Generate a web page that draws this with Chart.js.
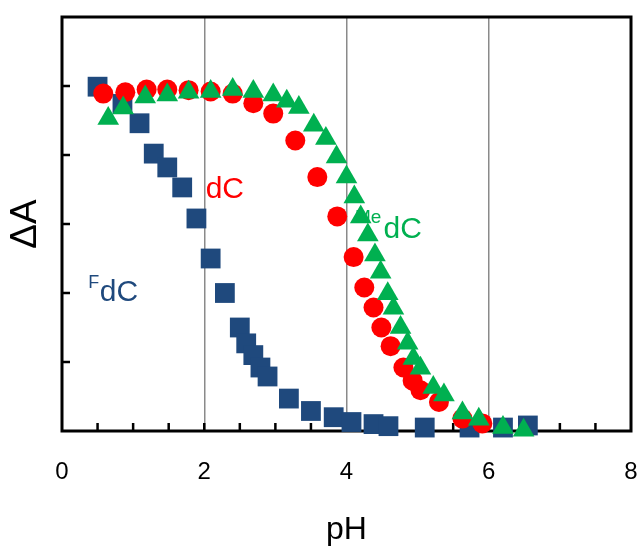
<!DOCTYPE html>
<html>
<head>
<meta charset="utf-8">
<script src="https://cdn.jsdelivr.net/npm/chart.js@4.4.1/dist/chart.umd.min.js"></script>
<style>
  html, body { margin: 0; padding: 0; background: #fff; }
  #wrap { width: 638px; height: 549px; }
</style>
</head>
<body>
<div id="wrap"><canvas id="c" width="638" height="549"></canvas></div>
<script>
// ---- Data ----
const xTickLabels = [0, 2, 4, 6, 8];

// FdC (squares)
const fdcPH = [0.50, 0.85, 1.09, 1.29, 1.48, 1.69, 1.89, 2.09, 2.29, 2.50, 2.59, 2.69, 2.79, 2.89, 3.19, 3.50, 3.82, 4.07, 4.38, 4.59, 5.10, 5.73, 6.20, 6.55];
const fdcA  = [4.99, 4.74, 4.46, 4.02, 3.82, 3.53, 3.08, 2.50, 2.00, 1.50, 1.27, 1.10, 0.92, 0.79, 0.47, 0.29, 0.20, 0.13, 0.10, 0.07, 0.05, 0.05, 0.05, 0.08];

// dC (circles)
const dcPH = [0.58, 0.89, 1.19, 1.48, 1.78, 2.09, 2.40, 2.69, 2.97, 3.28, 3.59, 3.87, 4.10, 4.25, 4.38, 4.49, 4.62, 4.80, 4.93, 5.04, 5.30, 5.63, 5.91];
const dcA  = [4.89, 4.91, 4.95, 4.95, 4.94, 4.92, 4.89, 4.75, 4.60, 4.21, 3.68, 3.11, 2.52, 2.08, 1.79, 1.50, 1.23, 0.92, 0.73, 0.59, 0.42, 0.18, 0.11];

// MedC (triangles)
const medcPH = [0.65, 0.86, 1.17, 1.48, 1.78, 2.09, 2.40, 2.69, 2.97, 3.16, 3.33, 3.54, 3.71, 3.86, 4.00, 4.11, 4.20, 4.30, 4.40, 4.48, 4.58, 4.66, 4.76, 4.86, 4.94, 5.04, 5.22, 5.37, 5.63, 5.86, 6.20, 6.49];
const medcA  = [4.53, 4.68, 4.84, 4.87, 4.91, 4.92, 4.95, 4.92, 4.87, 4.78, 4.69, 4.43, 4.24, 3.97, 3.68, 3.39, 3.10, 2.84, 2.55, 2.30, 1.99, 1.78, 1.50, 1.27, 1.05, 0.91, 0.63, 0.52, 0.26, 0.17, 0.05, 0.01];

const toPoints = (xs, ys) => xs.map((x, i) => ({ x: x, y: ys[i] }));

const FONT = "'Liberation Sans', Arial, sans-serif";
const BLUE = '#1F497D', RED = '#FF0000', GREEN = '#00B050';

const framePlugin = {
  id: 'frame',
  beforeDatasetsDraw(chart) {
    const { ctx, chartArea: a, scales } = chart;
    ctx.save();
    ctx.strokeStyle = '#000';
    ctx.lineWidth = 2.5;
    ctx.beginPath();
    for (let v = 0.5; v < 8; v += 0.5) {
      const px = scales.x.getPixelForValue(v);
      ctx.moveTo(px, a.bottom);
      ctx.lineTo(px, a.bottom - 8);
    }
    for (let v = 1; v < 6; v += 1) {
      const py = scales.y.getPixelForValue(v);
      ctx.moveTo(a.left, py);
      ctx.lineTo(a.left + 8, py);
    }
    ctx.stroke();
    ctx.lineWidth = 3;
    ctx.strokeRect(a.left, a.top, a.right - a.left, a.bottom - a.top);
    ctx.restore();
  },
  afterDatasetsDraw(chart) {
    const { ctx, scales } = chart;
    const X = v => scales.x.getPixelForValue(v);
    const Y = v => scales.y.getPixelForValue(v);
    ctx.save();
    ctx.textBaseline = 'alphabetic';
    ctx.textAlign = 'left';
    ctx.fillStyle = RED;
    ctx.font = '30px ' + FONT;
    ctx.fillText('dC', X(2.02), Y(3.38));
    ctx.fillStyle = BLUE;
    ctx.font = '18px ' + FONT;
    ctx.fillText('F', X(0.37), Y(2.07));
    ctx.font = '30px ' + FONT;
    ctx.fillText('dC', X(0.53), Y(1.89));
    ctx.fillStyle = GREEN;
    ctx.font = '19px ' + FONT;
    ctx.fillText('Me', X(4.12), Y(3.02));
    ctx.font = '30px ' + FONT;
    ctx.fillText('dC', X(4.52), Y(2.80));
    ctx.restore();
  }
};

new Chart(document.getElementById('c'), {
  type: 'scatter',
  data: {
    datasets: [
      { label: 'MedC', data: toPoints(medcPH, medcA), pointStyle: 'triangle', pointRadius: 12.5, pointHoverRadius: 12.5, backgroundColor: GREEN, borderWidth: 0, clip: false },
      { label: 'dC', data: toPoints(dcPH, dcA), pointStyle: 'circle', pointRadius: 10, pointHoverRadius: 10, backgroundColor: RED, borderWidth: 0, clip: false },
      { label: 'FdC', data: toPoints(fdcPH, fdcA), pointStyle: 'rect', pointRadius: 14, pointHoverRadius: 14, backgroundColor: BLUE, borderWidth: 0, clip: false }
    ]
  },
  options: {
    responsive: false,
    animation: false,
    events: [],
    layout: { autoPadding: false, padding: { top: 17, right: 7, left: 0, bottom: 0 } },
    plugins: { legend: { display: false }, tooltip: { enabled: false } },
    scales: {
      x: {
        type: 'linear', min: 0, max: 8,
        afterFit(s) { s.height = 118; s.paddingLeft = 0; s.paddingRight = 0; },
        afterBuildTicks(s) { s.ticks = xTickLabels.map(v => ({ value: v })); },
        ticks: { color: '#000', font: { family: FONT, size: 24 }, padding: 27, maxRotation: 0 },
        grid: {
          drawTicks: false,
          lineWidth: 1.5,
          color: c => (c.tick && c.tick.value > 0 && c.tick.value < 8) ? '#8a8a8a' : 'rgba(0,0,0,0)'
        },
        border: { display: false },
        title: { display: true, text: 'pH', color: '#000', font: { family: FONT, size: 32 }, padding: { top: 0, bottom: 0 } }
      },
      y: {
        type: 'linear', min: 0, max: 6,
        afterFit(s) { s.width = 62; s.paddingTop = 0; s.paddingBottom = 0; },
        ticks: { display: false, stepSize: 1 },
        grid: { display: false, drawTicks: false },
        border: { display: false },
        title: { display: true, text: 'ΔA', color: '#000', font: { family: FONT, size: 37 }, padding: { top: 4, bottom: 0 } }
      }
    }
  },
  plugins: [framePlugin]
});
</script>
</body>
</html>
